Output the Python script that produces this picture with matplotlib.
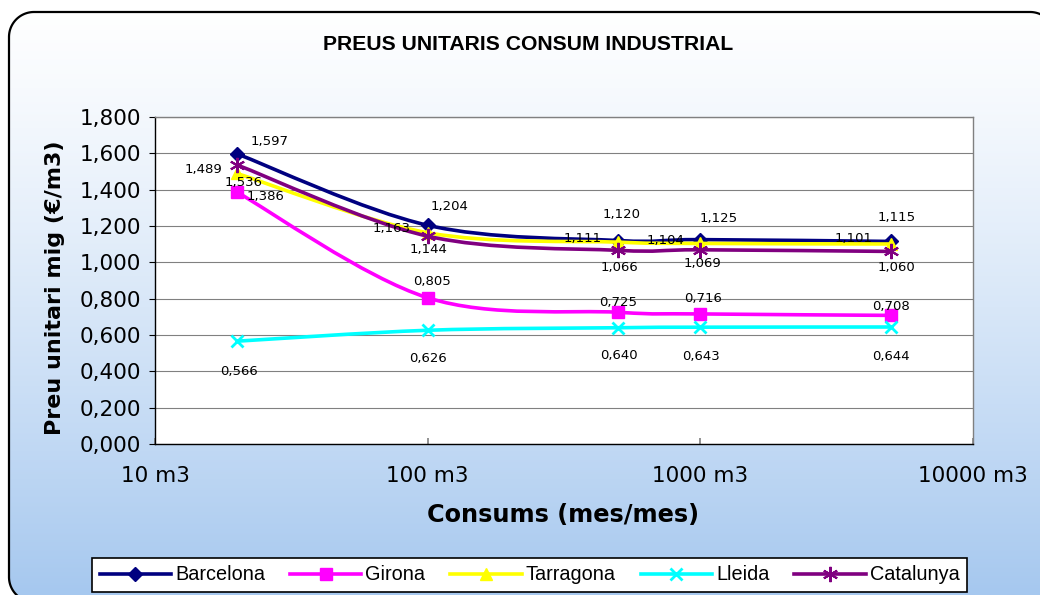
import numpy as np
import matplotlib
matplotlib.use('Agg')
import matplotlib.pyplot as plt
from matplotlib.path import Path
from matplotlib.patches import PathPatch, Polygon
from matplotlib.lines import Line2D
from matplotlib.ticker import FixedLocator, FuncFormatter, NullLocator

# dades (€/m3 segons consum mensual)
consum = [20, 100, 500, 1000, 5000]
barcelona = [1.597, 1.204, 1.120, 1.125, 1.115]
girona = [1.386, 0.805, 0.725, 0.716, 0.708]
tarragona = [1.489, 1.163, 1.111, 1.104, 1.101]
lleida = [0.566, 0.626, 0.640, 0.643, 0.644]
catalunya = [1.536, 1.144, 1.066, 1.069, 1.060]
noms = ['Barcelona', 'Girona', 'Tarragona', 'Lleida', 'Catalunya']
x_ticks = [10, 100, 1000, 10000]
x_labels = ['10 m3', '100 m3', '1000 m3', '10000 m3']
y_ticks = [0.0, 0.2, 0.4, 0.6, 0.8, 1.0, 1.2, 1.4, 1.6, 1.8]

# estil de cada serie: color, marcador, mida, gruix marcador
estils = [
    ('#000080', 'D', 7, 1.0),
    ('#FF00FF', 's', 8, 1.0),
    ('#FFFF00', '^', 9, 1.0),
    ('#00FFFF', 'x', 9, 2.0),
    ('#800080', (6, 2, 0), 11, 1.5),
]
# desplacament de les etiquetes (pixels, y cap avall)
despl = [
    [(32, -12), (22, -19), (3, -26), (18, -21), (6, -24)],
    [(28, 4), (4, -16), (0, -10), (3, -15), (0, -9)],
    [(-34, -4), (-36, -4), (-36, -4), (-35, -3), (-37, -5)],
    [(2, 30), (0, 28), (1, 28), (1, 29), (0, 29)],
    [(6, 18), (1, 13), (1, 17), (2, 14), (6, 16)],
]


def corba(xs, ys):
    # linia suavitzada (tipus excel) en espai log-x
    p = np.column_stack([np.log10(xs), np.array(ys, dtype=float)])
    p = np.vstack([p[0], p, p[-1]])
    verts = [p[1]]
    codes = [Path.MOVETO]
    for i in range(1, len(p) - 2):
        c1 = p[i] + (p[i + 1] - p[i - 1]) / 6
        c2 = p[i + 1] - (p[i + 2] - p[i]) / 6
        verts += [c1, c2, p[i + 1]]
        codes += [Path.CURVE4] * 3
    verts = np.array(verts)
    verts[:, 0] = 10 ** verts[:, 0]
    return Path(verts, codes)


def coma(v, pos=None):
    return f'{v:.3f}'.replace('.', ',')


def arc(cx, cy, r, t0, t1):
    t = np.radians(np.linspace(t0, t1, 30))
    return np.column_stack([cx + r * np.cos(t), cy + r * np.sin(t)])


W, H = 1040, 595
fig = plt.figure(figsize=(W / 100, H / 100), dpi=100)
fig.patch.set_facecolor('white')

# fons amb degradat i vora arrodonida (pixels, y cap avall)
bg = fig.add_axes([0, 0, 1, 1], zorder=0)
grad = np.linspace(0, 1, 256) ** 1.25
c_top = np.array([1.0, 1.0, 1.0])
c_bot = np.array([0xa6, 0xc8, 0xef]) / 255
img = c_top[None, :] * (1 - grad[:, None]) + c_bot[None, :] * grad[:, None]
img = img[:, None, :]
im = bg.imshow(img, extent=(0, W, H, 0), aspect='auto', zorder=1)
bg.set_xlim(0, W)
bg.set_ylim(H, 0)
bg.axis('off')

r = 25
vora = np.vstack([
    arc(34, 577, r, 127, 180),
    arc(34, 37, r, 180, 270),
    arc(1030, 37, r, 270, 298.7),
])
clip = Polygon(np.vstack([vora, [[1042, 597]]]), closed=True, facecolor='none',
               edgecolor='none', transform=bg.transData)
bg.add_patch(clip)
im.set_clip_path(clip)
bg.plot(vora[:, 0], vora[:, 1], color='black', linewidth=1.6, zorder=2,
        solid_capstyle='butt')

ax = fig.add_axes([155 / W, 151 / H, 818 / W, 327 / H], zorder=1)
ax.set_facecolor('white')
ax.set_xscale('log')
ax.set_xlim(10, 10000)
ax.set_ylim(0, 1.8)

series = [barcelona, girona, tarragona, lleida, catalunya]
handles = []
for k, (nom, vals) in enumerate(zip(noms, series)):
    col, mk, ms, mew = estils[k]
    ax.add_patch(PathPatch(corba(consum, vals), fill=False, edgecolor=col,
                           linewidth=2.6, zorder=3 + k, capstyle='round', joinstyle='round'))
    ax.plot(consum, vals, linestyle='none', marker=mk, markersize=ms, color=col,
            markeredgecolor=col, markeredgewidth=mew, zorder=3.5 + k)
    for xi, yi, (dx, dy) in zip(consum, vals, despl[k]):
        ax.annotate(coma(yi), (xi, yi), xytext=(dx, -dy), textcoords='offset pixels',
                    ha='center', va='center', fontsize=9.5, color='black', zorder=10)
    handles.append(Line2D([], [], color=col, linewidth=2.6, marker=mk, markersize=ms,
                          markeredgewidth=mew, label=nom))

ax.yaxis.set_major_locator(FixedLocator(y_ticks))
ax.yaxis.set_major_formatter(FuncFormatter(coma))
ax.xaxis.set_major_locator(FixedLocator(x_ticks))
ax.xaxis.set_minor_locator(NullLocator())
ax.set_xticklabels(x_labels)
ax.grid(axis='y', color='#808080', linewidth=0.8)
ax.set_axisbelow(True)
ax.tick_params(axis='y', direction='out', length=4, width=0.8, labelsize=15.5, pad=6)
ax.tick_params(axis='x', direction='in', length=4, width=1.2, color='#808080',
               labelsize=15.5, pad=16)
for s in ['top', 'right']:
    ax.spines[s].set_color('#808080')
    ax.spines[s].set_linewidth(1.0)
for s in ['left', 'bottom']:
    ax.spines[s].set_color('black')
    ax.spines[s].set_linewidth(1.0)

ax.set_ylabel('Preu unitari mig (€/m3)', fontsize=16, fontweight='bold')
ax.yaxis.set_label_coords(-0.11, 0.477)
ax.set_xlabel('Consums (mes/mes)', fontsize=17.3, fontweight='bold', va='center')
ax.xaxis.set_label_coords(0.499, -0.217)

fig.text(528 / W, 1 - 45 / H, 'PREUS UNITARIS CONSUM INDUSTRIAL', ha='center', va='center',
         fontsize=15.2, fontweight='bold', family=['Liberation Sans', 'DejaVu Sans'])

leg = fig.legend(handles=handles, loc='center', bbox_to_anchor=(529.5 / W, 1 - 575 / H),
                 ncol=5, frameon=True, fancybox=False, handlelength=3.6, handletextpad=0.2,
                 columnspacing=1.25, borderpad=0.4, framealpha=1,
                 prop={'family': ['Liberation Sans', 'DejaVu Sans'], 'size': 14.3})
leg.get_frame().set_edgecolor('black')
leg.get_frame().set_linewidth(1.2)
leg.set_zorder(5)

plt.savefig('out.png', dpi=100, bbox_inches=None)
